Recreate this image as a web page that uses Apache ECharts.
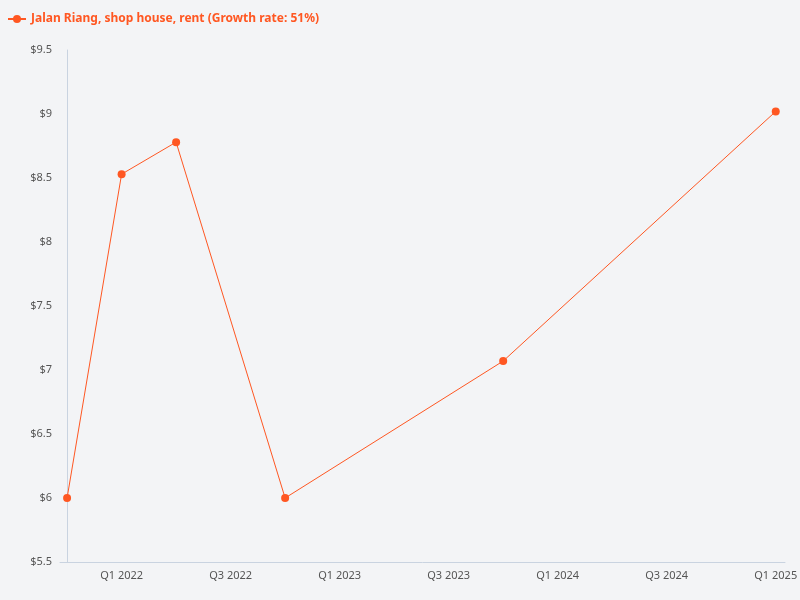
<!DOCTYPE html>
<html>
<head>
<meta charset="utf-8">
<script src="https://cdn.jsdelivr.net/npm/echarts@6/dist/echarts.min.js"></script>
<style>
html, body { margin: 0; padding: 0; background: #f3f4f6; }
#chart { width: 800px; height: 600px; }
</style>
</head>
<body>
<div id="chart"></div>
<script>
// quarter index: 0 = Q4 2021
var quarterNames = ['Q4 2021', 'Q1 2022', 'Q2 2022', 'Q3 2022', 'Q4 2022', 'Q1 2023', 'Q2 2023',
    'Q3 2023', 'Q4 2023', 'Q1 2024', 'Q2 2024', 'Q3 2024', 'Q4 2024', 'Q1 2025'];
var pointQuarters = [0, 1, 2, 4, 8, 13];
var rentValues = [6.0, 8.53, 8.78, 6.0, 7.07, 9.02];
var labelQuarters = [1, 3, 5, 7, 9, 11, 13];
var seriesName = 'Jalan Riang, shop house, rent (Growth rate: 51%)';

var data = [];
for (var i = 0; i < pointQuarters.length; i++) {
    data.push([pointQuarters[i], rentValues[i]]);
}

var chart = echarts.init(document.getElementById('chart'));
chart.setOption({
    backgroundColor: '#f3f4f6',
    color: ['#ff5722'],
    textStyle: { fontFamily: 'Noto Sans' },
    legend: {
        left: 2,
        top: 8,
        itemWidth: 18,
        itemHeight: 10,
        textStyle: { color: '#ff5722', fontWeight: 'bold', fontSize: 12 },
        data: [seriesName]
    },
    grid: { left: 60, right: 15, top: 50, bottom: 38, outerBoundsMode: 'none' },
    xAxis: {
        type: 'value',
        min: -0.13,
        max: 13.17,
        splitLine: { show: false },
        axisLine: { show: true, lineStyle: { color: '#c9d3e0' } },
        axisTick: { show: false },
        axisLabel: {
            customValues: labelQuarters,
            color: '#555',
            fontSize: 11,
            formatter: function(v) { return quarterNames[Math.round(v)]; }
        }
    },
    yAxis: {
        type: 'value',
        min: 5.5,
        max: 9.5,
        interval: 0.5,
        splitLine: { show: false },
        axisLine: { show: true, lineStyle: { color: '#c9d3e0' } },
        axisTick: { show: false },
        axisLabel: {
            color: '#555',
            fontSize: 11,
            formatter: function(v) { return '$' + v; }
        }
    },
    series: [{
        name: seriesName,
        type: 'line',
        data: data,
        symbol: 'circle',
        symbolSize: 8,
        lineStyle: { width: 1 }
    }]
});
</script>
</body>
</html>
